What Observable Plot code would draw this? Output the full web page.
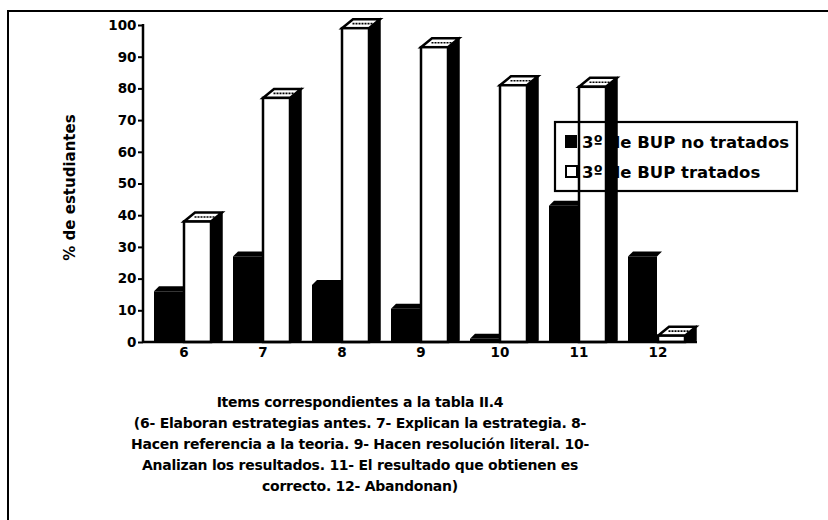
<!DOCTYPE html>
<html><head><meta charset="utf-8">
<script src="https://cdn.jsdelivr.net/npm/d3@7"></script>
<script src="https://cdn.jsdelivr.net/npm/@observablehq/plot@0.6"></script>
<style>
html,body{margin:0;padding:0;background:#fff;}
#wrap{position:relative;width:828px;height:520px;overflow:hidden;background:#fff;}
#border{position:absolute;left:7px;top:10px;width:830px;height:520px;border-top:2px solid #000;border-left:2px solid #000;box-sizing:border-box;}
#chart{position:absolute;left:0;top:0;}
#caption{position:absolute;left:0;top:392px;width:720px;text-align:center;font-family:"DejaVu Sans",sans-serif;font-weight:bold;font-size:14px;line-height:21px;letter-spacing:-0.25px;color:#000;}
svg [aria-label="y-axis tick"], svg [aria-label="y-axis"] line {stroke-width:2;}
</style></head><body>
<div id="wrap"><div id="border"></div><div id="chart"></div><div id="caption"></div></div>
<script>
// ---- data ----
const items = ["6", "7", "8", "9", "10", "11", "12"];
const seriesNames = ["3º de BUP no tratados", "3º de BUP tratados"];
const noTratados = [16, 27, 18, 10.5, 1, 43, 27];
const tratados = [38, 77, 99, 93, 81, 80.5, 2];
const yTicks = [0, 10, 20, 30, 40, 50, 60, 70, 80, 90, 100];
const yLabel = "% de estudiantes";
const captionLines = [
  "Items correspondientes a la tabla II.4",
  "(6- Elaboran estrategias antes. 7- Explican la estrategia. 8-",
  "Hacen referencia a la teoria. 9- Hacen resolución literal. 10-",
  "Analizan los resultados. 11- El resultado que obtienen es",
  "correcto. 12- Abandonan)"
];

const blackRows = items.map((item, i) => ({item, value: noTratados[i]}));
const whiteRows = items.map((item, i) => ({item, value: tratados[i]}));

// ---- layout ----
const W = 828, H = 380;
const mL = 143, mR = 131, mT = 25, mB = 38;
const font = '"DejaVu Sans", sans-serif';
const blackL = 10, blackR = 40, whiteL = 40, whiteR = 12;
const bDepth = 5, wDx = 11, wDy = 9;

function bandInfo(sx) {
  return typeof sx.bandwidth === "function" ? sx.bandwidth() : (sx(items[1]) - sx(items[0]));
}

// legend: transparent box laid over the bars, as in the scan
function legendMark(index, scales, values, dims) {
  const g = d3.create("svg:g");
  g.append("rect").attr("x", 555).attr("y", 122).attr("width", 242).attr("height", 69)
    .attr("fill", "none").attr("stroke", "#000").attr("stroke-width", 2.2);
  g.append("rect").attr("x", 565).attr("y", 135).attr("width", 12).attr("height", 13).attr("fill", "#000");
  g.append("rect").attr("x", 566).attr("y", 166).attr("width", 11).attr("height", 11)
    .attr("fill", "#fff").attr("stroke", "#000").attr("stroke-width", 2);
  const t = g.append("g").attr("font-family", font).attr("font-weight", "bold").attr("font-size", 16.5)
    .attr("fill", "#000").attr("text-anchor", "start");
  t.append("text").attr("x", 582).attr("y", 148).attr("text-anchor", "start").text(seriesNames[0]);
  t.append("text").attr("x", 582).attr("y", 177.5).attr("text-anchor", "start").text(seriesNames[1]);
  return g.node();
}

function blackTops(index, scales) {
  const sx = scales.x, sy = scales.y;
  const bw = bandInfo(sx);
  const g = d3.create("svg:g").attr("fill", "#000");
  blackRows.forEach(d => {
    const b = sx(d.item), yv = sy(d.value);
    const x0 = b + blackL, x1 = b + bw - blackR;
    g.append("polygon").attr("points", [[x0, yv], [x0 + bDepth, yv - bDepth], [x1 + bDepth, yv - bDepth], [x1, yv]].map(p => p.join(",")).join(" "));
  });
  return g.node();
}

function whiteBoxes(index, scales) {
  const sx = scales.x, sy = scales.y;
  const bw = bandInfo(sx);
  const y0 = sy(0);
  const g = d3.create("svg:g");
  whiteRows.forEach(d => {
    const b = sx(d.item), yv = sy(d.value);
    const x0 = b + whiteL, x1 = b + bw - whiteR;
    g.append("polygon")
      .attr("points", [[x1, y0], [x1, yv], [x1 + wDx, yv - wDy], [x1 + wDx, y0 - 2]].map(p => p.join(",")).join(" "))
      .attr("fill", "#000").attr("stroke", "#000").attr("stroke-width", 1.5);
    g.append("polygon")
      .attr("points", [[x0, yv], [x0 + wDx, yv - wDy], [x1 + wDx, yv - wDy], [x1, yv]].map(p => p.join(",")).join(" "))
      .attr("fill", "#fff").attr("stroke", "#000").attr("stroke-width", 2.5).attr("stroke-linejoin", "miter");
    g.append("line")
      .attr("x1", x0 + wDx * 0.5 + 5).attr("x2", x1 + wDx * 0.5 - 2)
      .attr("y1", yv - wDy * 0.5).attr("y2", yv - wDy * 0.5)
      .attr("stroke", "#000").attr("stroke-width", 1.6).attr("stroke-dasharray", "2 1");
  });
  return g.node();
}

function axisLines(index, scales, values, dims) {
  const sy = scales.y;
  const g = d3.create("svg:g");
  const y0 = sy(0), yTop = sy(100);
  g.append("line").attr("x1", mL).attr("x2", W - mR).attr("y1", y0).attr("y2", y0)
    .attr("stroke", "#000").attr("stroke-width", 2.5);
  g.append("line").attr("x1", mL).attr("x2", mL).attr("y1", yTop - 1).attr("y2", y0)
    .attr("stroke", "#000").attr("stroke-width", 2.5);
  g.append("text").attr("transform", `translate(70,${(y0 + yTop) / 2 + 4}) rotate(-90)`)
    .attr("text-anchor", "middle").attr("dy", "0.35em")
    .attr("font-family", font).attr("font-weight", "bold").attr("font-size", 15).attr("fill", "#000")
    .text(yLabel);
  return g.node();
}

const chart = Plot.plot({
  width: W, height: H,
  marginLeft: mL, marginRight: mR, marginTop: mT, marginBottom: mB,
  style: {fontFamily: font, fontSize: "13.5px", fontWeight: "bold", color: "#000", background: "transparent", overflow: "visible"},
  x: {domain: items, padding: 0, tickSize: 0, tickPadding: 5, label: null},
  y: {domain: [0, 100], ticks: yTicks, tickSize: 5, tickPadding: 2, label: null},
  marks: [
    Plot.barY(blackRows, {x: "item", y: "value", fill: "#000", insetLeft: blackL, insetRight: blackR}),
    blackTops,
    whiteBoxes,
    Plot.barY(whiteRows, {x: "item", y: "value", fill: "#fff", stroke: "#000", strokeWidth: 2.5, insetLeft: whiteL, insetRight: whiteR}),
    axisLines,
    legendMark
  ]
});
document.getElementById("chart").appendChild(chart);

const cap = document.getElementById("caption");
captionLines.forEach(l => { const d = document.createElement("div"); d.textContent = l; cap.appendChild(d); });
</script>
</body></html>
